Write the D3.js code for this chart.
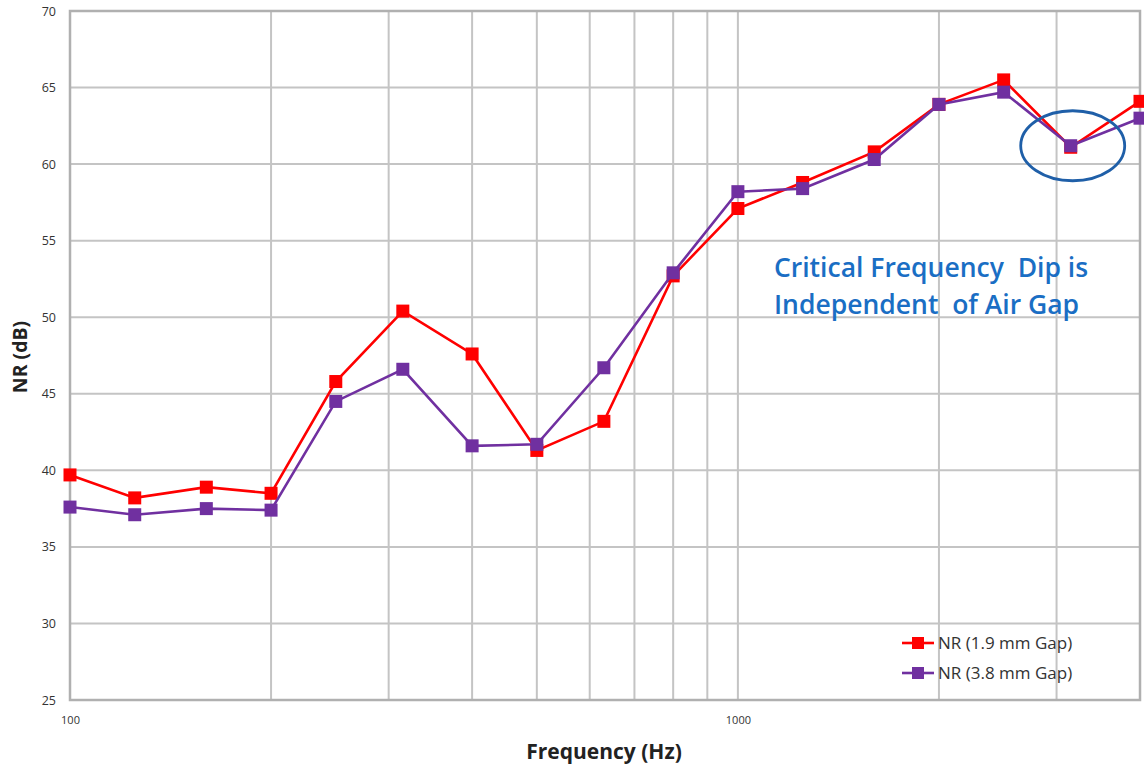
<!DOCTYPE html>
<html><head><meta charset="utf-8">
<script src="https://cdn.jsdelivr.net/npm/d3@7"></script>
<style>body{margin:0;background:#fff;} svg{display:block;}</style>
</head><body>
<svg id="c" width="1144" height="770"></svg>
<script>
const freqs = [100,125,160,200,250,315,400,500,630,800,1000,1250,1600,2000,2500,3150,4000];
const gap19 = [39.7,38.2,38.9,38.5,45.8,50.4,47.6,41.3,43.2,52.7,57.1,58.8,60.8,63.9,65.5,61.1,64.1];
const gap38 = [37.6,37.1,37.5,37.4,44.5,46.6,41.6,41.7,46.7,52.9,58.2,58.4,60.3,63.9,64.7,61.2,63.0];
const seriesNames = ["NR (1.9 mm Gap)","NR (3.8 mm Gap)"];
const seriesColors = ["#ff0000","#7030a0"];
const yTicks = [25,30,35,40,45,50,55,60,65,70];
const xGrid = [100,200,300,400,500,600,700,800,900,1000,2000,3000,4000];
const xLabels = [100,1000];
const annotation = ["Critical Frequency  Dip is","Independent  of Air Gap"];

const svg = d3.select("#c");
const L=70, R=1140, T=11, B=700;
const x = d3.scaleLog().domain([100,4000]).range([L,R]);
const y = d3.scaleLinear().domain([25,70]).range([B,T]);

const grid = svg.append("g");
grid.selectAll("line.v").data(xGrid).join("line")
  .attr("x1",d=>x(d)).attr("x2",d=>x(d)).attr("y1",T).attr("y2",B)
  .attr("stroke","#c4c4c4").attr("stroke-width",2);
grid.selectAll("line.h").data(yTicks).join("line")
  .attr("x1",L).attr("x2",R).attr("y1",d=>y(d)).attr("y2",d=>y(d))
  .attr("stroke","#c4c4c4").attr("stroke-width",2);
svg.append("rect").attr("x",L).attr("y",T).attr("width",R-L).attr("height",B-T)
  .attr("fill","none").attr("stroke","#b0b0b0").attr("stroke-width",2.5);

const yAxis = d3.axisLeft(y).tickValues(yTicks).tickSize(0).tickPadding(14);
const ya = svg.append("g").attr("transform",`translate(${L},0)`).call(yAxis);
ya.select(".domain").remove();
ya.selectAll("text").attr("font-family","'Open Sans',sans-serif").attr("font-size",12.5).attr("fill","#333");

const xAxis = d3.axisBottom(x).tickValues(xLabels).tickFormat(d3.format("d")).tickSize(0).tickPadding(16);
const xa = svg.append("g").attr("transform",`translate(0,${B})`).call(xAxis);
xa.select(".domain").remove();
xa.selectAll("text").attr("font-family","'Open Sans',sans-serif").attr("font-size",11).attr("fill","#333");

svg.append("text").attr("x",604).attr("y",759).attr("text-anchor","middle")
  .attr("font-family","'Open Sans',sans-serif").attr("font-weight","bold").attr("font-size",21)
  .attr("fill","#222").text("Frequency (Hz)");
svg.append("text").attr("transform","translate(27,357) rotate(-90)").attr("text-anchor","middle")
  .attr("font-family","'Open Sans',sans-serif").attr("font-weight","bold").attr("font-size",19.5)
  .attr("fill","#222").text("NR (dB)");

const data = [gap19,gap38];
const line = d3.line().x((d,i)=>x(freqs[i])).y(d=>y(d));
data.forEach((s,k)=>{
  const g = svg.append("g");
  g.append("path").datum(s).attr("d",line).attr("fill","none")
    .attr("stroke",seriesColors[k]).attr("stroke-width",2.6);
  g.selectAll("rect").data(s).join("rect")
    .attr("x",(d,i)=>x(freqs[i])-6.5).attr("y",d=>y(d)-6.5)
    .attr("width",13).attr("height",13).attr("fill",seriesColors[k]);
});

svg.append("ellipse").attr("cx",x(3150)+2).attr("cy",y(61.2)).attr("rx",52).attr("ry",35)
  .attr("fill","none").attr("stroke","#1f5fa8").attr("stroke-width",2.8);

const at = svg.append("text").attr("font-family","'Open Sans',sans-serif").attr("font-weight",600)
  .attr("font-size",26.5).attr("fill","#1a6ec4");
annotation.forEach((t,i)=>at.append("tspan").attr("x",774).attr("y",277+i*37).attr("xml:space","preserve").text(t));

const lg = svg.append("g");
seriesNames.forEach((n,k)=>{
  const yy = 643 + k*30;
  lg.append("line").attr("x1",902).attr("x2",934).attr("y1",yy).attr("y2",yy)
    .attr("stroke",seriesColors[k]).attr("stroke-width",2.6);
  lg.append("rect").attr("x",912).attr("y",yy-6).attr("width",12).attr("height",12).attr("fill",seriesColors[k]);
  lg.append("text").attr("x",938).attr("y",yy+6).attr("font-family","'Open Sans',sans-serif")
    .attr("font-size",17).attr("fill","#333").text(n);
});
</script>
</body></html>
